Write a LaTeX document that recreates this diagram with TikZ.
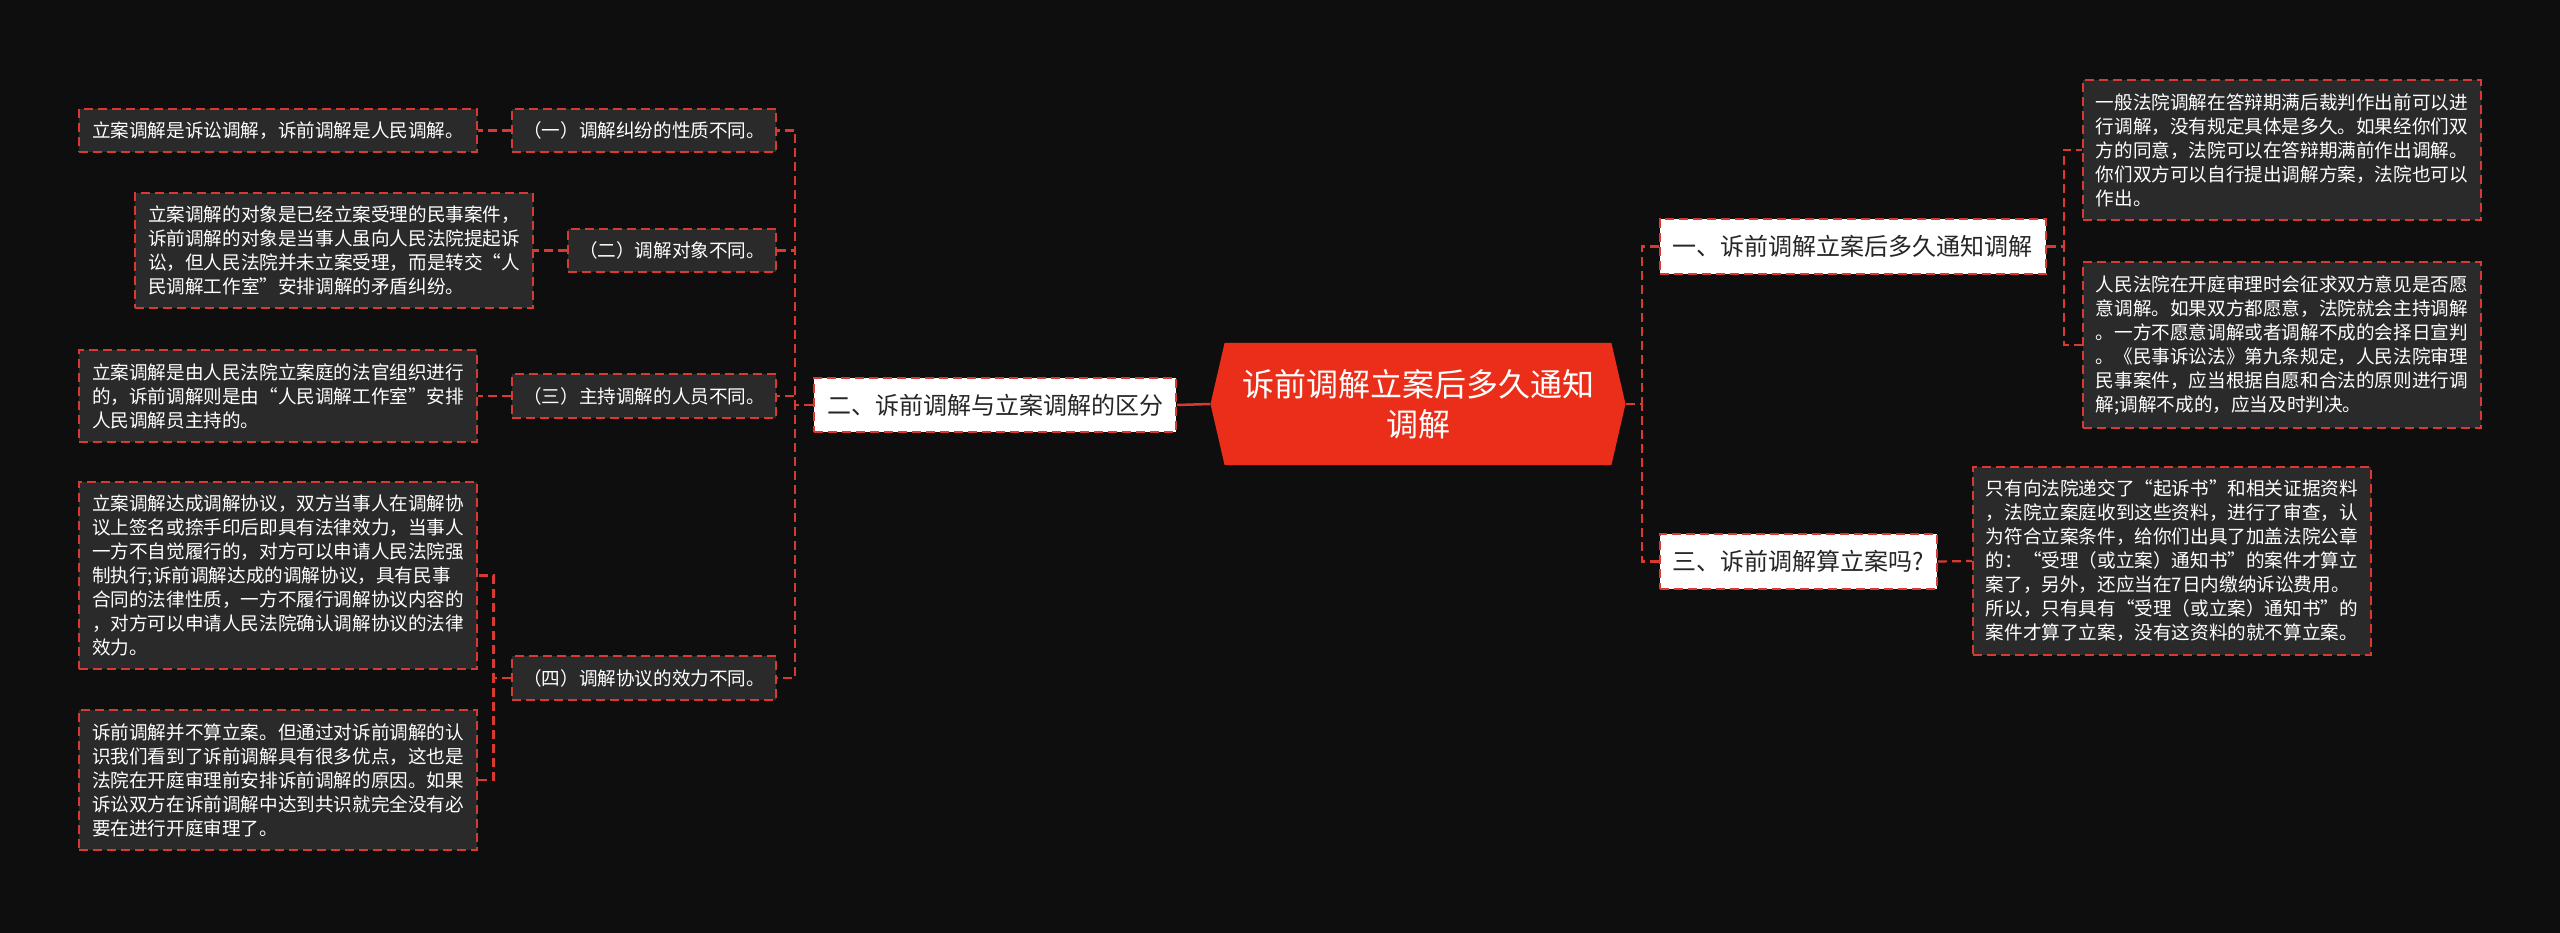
\documentclass[tikz,border=0pt]{standalone}
\usepackage{fontspec}
\setmainfont{Noto Sans CJK SC}
\usetikzlibrary{shapes.symbols}

\definecolor{bgblack}{HTML}{0E0E0E}
\definecolor{leafgray}{HTML}{2A2A2A}
\definecolor{linkred}{HTML}{D83A32}
\definecolor{rootred}{HTML}{EB2E1A}

\begin{document}
\begin{tikzpicture}[x=1pt,y=-1pt,
  leaf/.style={draw=linkred, fill=leafgray, line width=1.8pt, dash pattern=on 9pt off 5pt,
    text=white, font=\fontsize{18.6}{24}\selectfont, text width=372pt, align=left,
    inner xsep=13pt, inner ysep=13pt},
  part/.style={draw=linkred, fill=leafgray, line width=1.8pt, dash pattern=on 9pt off 5pt,
    text=white, font=\fontsize{18.6}{24}\selectfont, inner xsep=11pt, inner ysep=13pt, anchor=east},
  topic/.style={draw=linkred, fill=white, line width=1.8pt, dash pattern=on 9pt off 5pt,
    text=black!85, font=\fontsize{24}{30}\selectfont, inner xsep=13pt, inner ysep=16pt},
  root/.style={shape=signal, signal to=east and west, signal pointer angle=154,
    fill=rootred, text=white, font=\fontsize{32}{40}\selectfont, align=center,
    minimum width=415pt, minimum height=122pt, inner sep=0pt},
  link/.style={draw=linkred, line width=2.2pt, dash pattern=on 9pt off 5pt}]
\useasboundingbox (0,0) rectangle (2560,933);
\fill[bgblack] (0,0) rectangle (2560,933);

% centre
\node[root] (root) at (1418,404) {诉前调解立案后多久通知\\调解};

% left branch
\node[topic, anchor=east] (n2) at (1177,405) {二、诉前调解与立案调解的区分};
\node[part] (s1) at (777,130.5) {（一）调解纠纷的性质不同。};
\node[part] (s2) at (777,250.5) {（二）调解对象不同。};
\node[part] (s3) at (777,396) {（三）主持调解的人员不同。};
\node[part] (s4) at (777,678) {（四）调解协议的效力不同。};
\node[leaf, anchor=east] (l1) at (478,130.5) {立案调解是诉讼调解，诉前调解是人民调解。};
\node[leaf, anchor=east] (l2) at (534,250.5) {立案调解的对象是已经立案受理的民事案件，\\诉前调解的对象是当事人虽向人民法院提起诉\\讼，但人民法院并未立案受理，而是转交“人\\民调解工作室”安排调解的矛盾纠纷。};
\node[leaf, anchor=east] (l3) at (478,396) {立案调解是由人民法院立案庭的法官组织进行\\的，诉前调解则是由“人民调解工作室”安排\\人民调解员主持的。};
\node[leaf, anchor=east] (l4) at (478,575.5) {立案调解达成调解协议，双方当事人在调解协\\议上签名或捺手印后即具有法律效力，当事人\\一方不自觉履行的，对方可以申请人民法院强\\制执行;诉前调解达成的调解协议，具有民事\\合同的法律性质，一方不履行调解协议内容的\\，对方可以申请人民法院确认调解协议的法律\\效力。};
\node[leaf, anchor=east] (l5) at (478,780) {诉前调解并不算立案。但通过对诉前调解的认\\识我们看到了诉前调解具有很多优点，这也是\\法院在开庭审理前安排诉前调解的原因。如果\\诉讼双方在诉前调解中达到共识就完全没有必\\要在进行开庭审理了。};

% right branch
\node[topic, anchor=west] (n1) at (1659,246.5) {一、诉前调解立案后多久通知调解};
\node[topic, anchor=west] (n3) at (1659,561.5) {三、诉前调解算立案吗?};
\node[leaf, anchor=west] (r1) at (2082,150) {一般法院调解在答辩期满后裁判作出前可以进\\行调解，没有规定具体是多久。如果经你们双\\方的同意，法院可以在答辩期满前作出调解。\\你们双方可以自行提出调解方案，法院也可以\\作出。};
\node[leaf, anchor=west] (r2) at (2082,345) {人民法院在开庭审理时会征求双方意见是否愿\\意调解。如果双方都愿意，法院就会主持调解\\。一方不愿意调解或者调解不成的会择日宣判\\。《民事诉讼法》第九条规定，人民法院审理\\民事案件，应当根据自愿和合法的原则进行调\\解;调解不成的，应当及时判决。};
\node[leaf, anchor=west] (r3) at (1972,561) {只有向法院递交了“起诉书”和相关证据资料\\，法院立案庭收到这些资料，进行了审查，认\\为符合立案条件，给你们出具了加盖法院公章\\的：“受理（或立案）通知书”的案件才算立\\案了，另外，还应当在7日内缴纳诉讼费用。\\所以，只有具有“受理（或立案）通知书”的\\案件才算了立案，没有这资料的就不算立案。};

% connectors
\draw[linkred, line width=2.5pt] (root.west) -- (n2.east);
\foreach \t in {n1,n3}
  \draw[link] (root.east) -- +(16,0) |- (\t.west);
\foreach \s in {s1,s2,s3,s4}
  \draw[link] (n2.west) -- +(-18,0) |- (\s.east);
\draw[link] (s1.west) -- (l1.east);
\draw[link] (s2.west) -- (l2.east);
\draw[link] (s3.west) -- (l3.east);
\foreach \l in {l4,l5}
  \draw[link] (s4.west) -- +(-18,0) |- (\l.east);
\foreach \r in {r1,r2}
  \draw[link] (n1.east) -- +(17,0) |- (\r.west);
\draw[link] (n3.east) -- (r3.west);
\end{tikzpicture}
\end{document}
